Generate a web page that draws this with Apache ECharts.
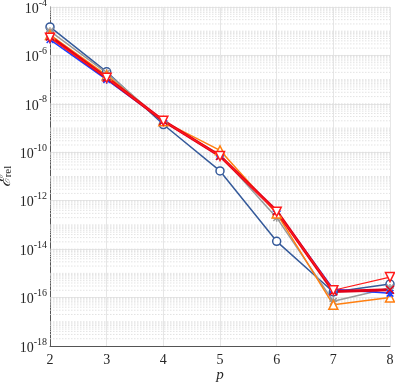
<!DOCTYPE html>
<html><head><meta charset="utf-8">
<script src="https://cdn.jsdelivr.net/npm/echarts@6/dist/echarts.min.js"></script>
<style>html,body{margin:0;padding:0;background:#fff}#c{width:395px;height:383px}</style>
</head><body><div id="c"></div>
<script>
const pValues = [2, 3, 4, 5, 6, 7, 8];
const darkBlueCircle = [1.5e-5, 2.1e-7, 1.4e-9, 1.7e-11, 2.1e-14, 1.7e-16, 3.6e-16];
const grayStar      = [1.0e-5, 1.9e-7, 1.8e-9, 8.0e-11, 2.0e-13, 7.0e-17, 2.5e-16];
const orangeTriUp   = [7.0e-6, 1.5e-7, 1.9e-9, 1.2e-10, 3.0e-13, 5.0e-17, 1.0e-16];
const blueAsterisk  = [4.5e-6, 1.0e-7, 2.0e-9, 7.0e-11, 3.7e-13, 2.2e-16, 1.5e-16];
const redCross      = [6.0e-6, 1.2e-7, 2.0e-9, 7.0e-11, 3.7e-13, 1.8e-16, 2.1e-16];
const redTriDown    = [5.4e-6, 1.2e-7, 2.0e-9, 7.0e-11, 3.5e-13, 2.0e-16, 7.0e-16];
const yMinExp = -18, yMaxExp = -4;

const pair = arr => pValues.map((p, i) => [p, arr[i]]);
const serif = '"Liberation Serif", "DejaVu Serif", serif';

// minor grid: k x 10^e, drawn as broken horizontal segments across the x range
const minorGrid = [];
for (let e = yMinExp; e < yMaxExp; e++) {
  for (let k = 2; k <= 10; k++) {
    const v = k * Math.pow(10, e);
    minorGrid.push([pValues[0], v], [pValues[pValues.length - 1], v], ['-', '-']);
  }
}

const crossPath = 'path://M0,0L10,10M10,0L0,10';
const asteriskPath = 'path://M0,0L10,10M10,0L0,10M5,-1L5,11M-1,5L11,5';

function mk(name, data, color, symbol, size, width, extra) {
  return Object.assign({
    name, type: 'line', data: pair(data), symbol, symbolSize: size,
    lineStyle: {color, width}, itemStyle: {color: '#fff', borderColor: color, borderWidth: 1.5},
    emphasis: {disabled: true}, animation: false, z: 3
  }, extra || {});
}

const series = [
  {name: 'minor', type: 'line', data: minorGrid, symbol: 'none', silent: true, connectNulls: false,
   lineStyle: {color: '#dcdcdc', type: [1.5, 1.5], width: 0.8}, emphasis: {disabled: true}, z: 1, animation: false},
  mk('blue circle', darkBlueCircle, '#355a9a', 'circle', 8, 1.5),
  mk('gray', grayStar, '#9a9a9a', asteriskPath, 8, 1.5),
  mk('orange', orangeTriUp, '#ff7f10', 'triangle', 9, 1.5),
  mk('blue asterisk', blueAsterisk, '#1d3fff', asteriskPath, 8, 1.5),
  mk('red cross', redCross, '#e0001b', crossPath, 8, 3),
  mk('red tri', redTriDown, '#ff1a1a', 'triangle', 9, 1.2, {symbolRotate: 180})
];

const chart = echarts.init(document.getElementById('c'));
chart.setOption({
  backgroundColor: '#fff',
  animation: false,
  grid: {left: 50, right: 5, top: 7, bottom: 37, outerBoundsMode: 'none'},
  xAxis: {
    type: 'value', min: 2, max: 8, interval: 1,
    name: 'p', nameLocation: 'middle', nameGap: 22, nameMoveOverlap: false,
    nameTextStyle: {fontFamily: serif, fontStyle: 'italic', fontSize: 15, color: '#262626'},
    axisLine: {lineStyle: {color: '#555', width: 1}},
    axisTick: {show: false},
    axisLabel: {fontFamily: serif, fontSize: 14, color: '#262626', margin: 7},
    splitLine: {show: true, lineStyle: {color: '#e6e6e6', width: 1}}
  },
  yAxis: {
    type: 'log', logBase: 10, min: Math.pow(10, yMinExp), max: Math.pow(10, yMaxExp), interval: 2,
    name: '{e|ℰ}{s|rel}', nameLocation: 'middle', nameGap: 36, nameMoveOverlap: false,
    nameTextStyle: {rich: {
      e: {fontFamily: '"DejaVu Serif", serif', fontSize: 16, fontStyle: 'italic', color: '#262626'},
      s: {fontFamily: serif, fontSize: 11, color: '#262626', verticalAlign: 'bottom', padding: [6, 0, 0, 0]}
    }},
    axisLine: {show: true, lineStyle: {color: '#555', width: 1}},
    axisTick: {show: false},
    axisLabel: {
      margin: 3, align: 'right',
      formatter: v => '{b|10}{s|' + Math.round(Math.log10(v)) + '}',
      rich: {
        b: {fontFamily: serif, fontSize: 14, color: '#262626', lineHeight: 18, verticalAlign: 'bottom'},
        s: {fontFamily: serif, fontSize: 10, color: '#262626', lineHeight: 18, verticalAlign: 'top'}
      }
    },
    splitLine: {show: true, lineStyle: {color: '#e6e6e6', width: 1}}
  },
  series
});
</script></body></html>
